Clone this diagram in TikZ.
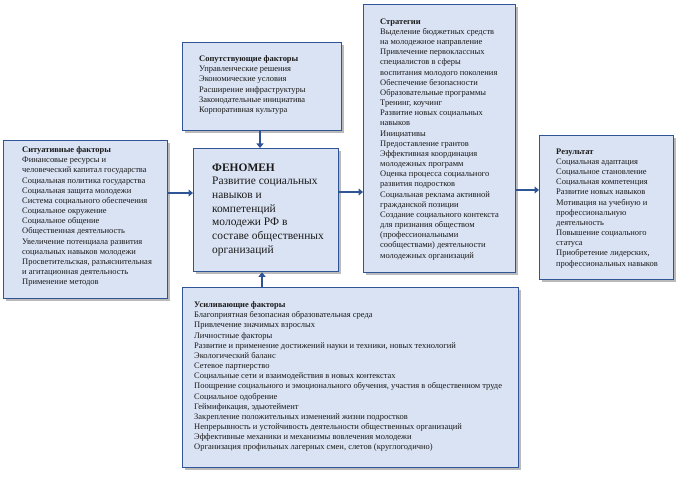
\documentclass[tikz,border=0pt]{standalone}
\usepackage{fontspec}
\setmainfont{Liberation Serif}
\usetikzlibrary{shadows,arrows.meta}
\definecolor{boxfill}{HTML}{DAE3F3}
\definecolor{boxline}{HTML}{2F5597}
\definecolor{arrcol}{HTML}{2F5597}
\definecolor{txtcol}{HTML}{1A1A1A}
\begin{document}
\begin{tikzpicture}[x=1bp,y=-1bp,
  boxnode/.style={draw=boxline, line width=1.3bp, fill=boxfill, rectangle, inner sep=0pt, anchor=north west,
    drop shadow={opacity=0.45, shadow xshift=2.5bp, shadow yshift=-2.5bp, fill=black!60}},
  txt/.style={anchor=north west, inner sep=0pt, align=left, text=txtcol, font=\fontsize{8.5}{10.2}\selectfont},
  bigtxt/.style={anchor=north west, inner sep=0pt, align=left, text=txtcol, font=\fontsize{11.5}{13.7}\selectfont},
  arr/.style={draw=arrcol, line width=2.4bp, -{Triangle[length=4.5bp,width=7bp]}}]
\useasboundingbox (0,0) rectangle (684,478);

% boxes
\node[boxnode, minimum width=164bp, minimum height=158bp] (left) at (3,140) {};
\node[boxnode, minimum width=159bp, minimum height=88bp] (top) at (182,42) {};
\node[boxnode, minimum width=145bp, minimum height=123bp] (center) at (193,148) {};
\node[boxnode, minimum width=152bp, minimum height=268bp] (strat) at (363,4) {};
\node[boxnode, minimum width=134bp, minimum height=144bp] (result) at (539,135) {};
\node[boxnode, minimum width=336bp, minimum height=180bp] (bottom) at (182,287) {};

% texts
\node[txt] (leftT) at (22,146.5) {\textbf{Ситуативные факторы}\\
Финансовые ресурсы и\\
человеческий капитал государства\\
Социальная политика государства\\
Социальная защита молодежи\\
Система социального обеспечения\\
Социальное окружение\\
Социальное общение\\
Общественная деятельность\\
Увеличение потенциала развития\\
социальных навыков молодежи\\
Просветительская, разъяснительная\\
и агитационная деятельность\\
Применение методов};

\node[txt] (topT) at (199,55.5) {\textbf{Сопутствующие факторы}\\
Управленческие решения\\
Экономические условия\\
Расширение инфраструктуры\\
Законодательные инициатива\\
Корпоративная культура};

\node[bigtxt] (centerT) at (212,163.5) {\textbf{ФЕНОМЕН}\\
Развитие социальных\\
навыков и\\
компетенций\\
молодежи РФ в\\
составе общественных\\
организаций};

\node[txt] (stratT) at (380,18.5) {\textbf{Стратегии}\\
Выделение бюджетных средств\\
на молодежное направление\\
Привлечение первоклассных\\
специалистов в сферы\\
воспитания молодого поколения\\
Обеспечение безопасности\\
Образовательные программы\\
Тренинг, коучинг\\
Развитие новых социальных\\
навыков\\
Инициативы\\
Предоставление грантов\\
Эффективная координация\\
молодежных программ\\
Оценка процесса социального\\
развития подростков\\
Социальная реклама активной\\
гражданской позиции\\
Создание социального контекста\\
для признания обществом\\
(профессиональными\\
сообществами) деятельности\\
молодежных организаций};

\node[txt] (resultT) at (556,148.5) {\textbf{Результат}\\
Социальная адаптация\\
Социальное становление\\
Социальная компетенция\\
Развитие новых навыков\\
Мотивация на учебную и\\
профессиональную\\
деятельность\\
Повышение социального\\
статуса\\
Приобретение лидерских,\\
профессиональных навыков};

\node[txt] (bottomT) at (194,301.5) {\textbf{Усиливающие факторы}\\
Благоприятная безопасная образовательная среда\\
Привлечение значимых взрослых\\
Личностные факторы\\
Развитие и применение достижений науки и техники, новых технологий\\
Экологический баланс\\
Сетевое партнерство\\
Социальные сети и взаимодействия в новых контекстах\\
Поощрение социального и эмоционального обучения, участия в общественном труде\\
Социальное одобрение\\
Геймификация, эдьютеймент\\
Закрепление положительных изменений жизни подростков\\
Непрерывность и устойчивость деятельности общественных организаций\\
Эффективные механики и механизмы вовлечения молодежи\\
Организация профильных лагерных смен, слетов (круглогодично)};

% connector helpers
\coordinate (yA) at (0,193);
\coordinate (yB) at (0,192);
\coordinate (yC) at (0,190);
\coordinate (xT) at (260,0);
\coordinate (xB) at (262,0);

\draw[arr] (left.east |- yA) -- (center.west |- yA);
\draw[arr] (top.south -| xT) -- (center.north -| xT);
\draw[arr] (bottom.north -| xB) -- (center.south -| xB);
\draw[arr] (center.east |- yB) -- (strat.west |- yB);
\draw[arr] (strat.east |- yC) -- (result.west |- yC);
\end{tikzpicture}
\end{document}
